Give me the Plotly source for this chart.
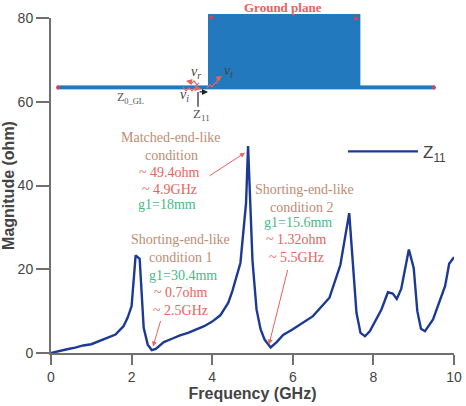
import plotly.graph_objects as go

# Input impedance magnitude against frequency
freq_ghz = [0, 0.2, 0.4, 0.6, 0.8, 1.0, 1.2, 1.4, 1.6, 1.8, 1.9, 2.0, 2.1, 2.2, 2.3, 2.4, 2.5,
            2.6, 2.7, 2.8, 3.0, 3.2, 3.4, 3.6, 3.8, 4.0, 4.2, 4.4, 4.5, 4.7, 4.84, 4.89, 5.0,
            5.1, 5.2, 5.3, 5.45, 5.6, 5.76, 5.99, 6.5, 6.91, 7.18, 7.4, 7.58, 7.68, 7.79, 7.91,
            8.2, 8.36, 8.48, 8.58, 8.69, 8.88, 9.0, 9.09, 9.18, 9.28, 9.48, 9.78, 9.88, 10.0]
z11_ohm = [0, 0.5, 0.9, 1.3, 1.8, 2.1, 2.9, 3.6, 4.4, 6.4, 8.4, 11.2, 23.3, 22.5, 6.0, 2.0, 0.7,
           1.0, 1.8, 2.6, 3.4, 4.2, 4.8, 5.6, 6.4, 7.5, 9.0, 12.0, 14.8, 21.5, 35.8, 49.4, 22.0,
           10.4, 5.7, 3.2, 1.32, 2.6, 4.3, 5.6, 8.8, 13.2, 21.0, 33.4, 9.6, 4.8, 4.0, 5.2,
           10.4, 14.5, 14.2, 12.9, 15.3, 24.7, 20.3, 10.0, 5.8, 5.2, 8.0, 16.0, 21.3, 22.9]

x_major = [0, 2, 4, 6, 8, 10]
x_minor = [1, 3, 5, 7, 9]
y_major = [0, 20, 40, 60, 80]
y_minor = [10, 30, 50, 70]

TAN = "#BE8C72"
RED = "#E8625C"
GREEN = "#48B888"
BLUE = "#2279BE"
MARK = "#E0404E"
CURVE = "#1C3A94"
GREY = "#707070"
INK = "#444444"

W, H = 466, 406
L, R, T, B = 51, 454, 18, 353.5


def px(x):
    return (x - L) / (R - L)


def py(y):
    return (B - y) / (B - T)


def poly(points):
    return "M " + " L ".join(f"{px(x):.5f},{py(y):.5f}" for x, y in points)


# (text, colour, x centre, y centre) for each block of notes
notes = [
    ("Matched-end-like", TAN, 171, 138), ("condition", TAN, 171, 156),
    ("~ 49.4ohm", RED, 169, 173), ("~ 4.9GHz", RED, 169, 190), ("g1=18mm", GREEN, 167, 205),
    ("Shorting-end-like", TAN, 180, 240), ("condition 1", TAN, 180, 258),
    ("g1=30.4mm", GREEN, 183, 276), ("~ 0.7ohm", RED, 181, 293), ("~ 2.5GHz", RED, 180, 311),
    ("Shorting-end-like", TAN, 304, 190), ("condition 2", TAN, 301, 208),
    ("g1=15.6mm", GREEN, 298, 223), ("~ 1.32ohm", RED, 296, 240), ("~ 5.5GHz", RED, 296, 258),
]

annotations = [
    dict(text=t, x=px(x), y=py(y), xref="paper", yref="paper", showarrow=False,
         xanchor="center", yanchor="middle",
         font=dict(family="Liberation Serif", size=14, color=c))
    for t, c, x, y in notes
]

annotations.append(dict(text="<b>Ground plane</b>", x=px(283), y=py(7), xref="paper", yref="paper",
                        xanchor="center", yanchor="middle", showarrow=False,
                        font=dict(family="Liberation Serif", size=13, color=RED)))

# Labels around the feed point of the strip
for text, x, y, size, col in [
    ("Z<sub>0_GL</sub>", 130, 98, 12, "#555555"),
    ("Z<sub>11</sub>", 201, 115, 13, "#555555"),
    ("<i>v<sub>r</sub></i>", 196, 73, 14, "#444444"),
    ("<i>v<sub>t</sub></i>", 228, 72, 14, "#444444"),
    ("<i>v<sub>i</sub></i>", 184, 96, 14, "#444444"),
]:
    annotations.append(dict(text=text, x=px(x), y=py(y), xref="paper", yref="paper",
                            xanchor="center", yanchor="middle", showarrow=False,
                            font=dict(family="Liberation Serif", size=size, color=col)))

# Arrows from the notes to the curve and for the wave directions
for x0, y0, x1, y1, col, wid in [
    (208, 177, 245, 153, RED, 1), (161, 320, 153, 347, RED, 1), (288, 269, 269, 345, RED, 1),
    (198, 92, 208, 92, "#222222", 1.2), (216, 80, 222, 76, RED, 1.2),
    (192, 82, 186, 81, RED, 1.2), (194, 88, 201, 89, RED, 1.2),
]:
    annotations.append(dict(x=px(x1), y=py(y1), ax=x0 - x1, ay=y0 - y1, xref="paper", yref="paper",
                            text="", showarrow=True, arrowhead=2,
                            arrowsize=1, arrowwidth=wid, arrowcolor=col))

# Ground plane outline: the strip and the wide block, with a pale lower edge
shapes = [
    dict(type="rect", xref="paper", yref="paper", x0=px(57), x1=px(435), y0=py(90), y1=py(85.7),
         fillcolor="#A5CFEC", line_width=0, layer="below"),
    dict(type="rect", xref="paper", yref="paper", x0=px(208), x1=px(361), y0=py(90), y1=py(14),
         fillcolor="#A5CFEC", line_width=0, layer="below"),
    dict(type="rect", xref="paper", yref="paper", x0=px(57), x1=px(435), y0=py(89), y1=py(85.7),
         fillcolor=BLUE, line_width=0, layer="below"),
    dict(type="rect", xref="paper", yref="paper", x0=px(208), x1=px(360), y0=py(89), y1=py(14),
         fillcolor=BLUE, line_width=0, layer="below"),
]

# Port marks at the corners of the ground plane
for cx, cy in [(58, 87.5), (211.5, 17.5), (356, 18.5), (434, 87.5)]:
    shapes.append(dict(type="circle", xref="paper", yref="paper", x0=px(cx - 2), x1=px(cx + 2),
                       y0=py(cy + 2), y1=py(cy - 2), fillcolor=MARK, line_width=0))

# Reference plane bracket and the wavy wave paths at the feed
shapes.append(dict(type="path", xref="paper", yref="paper",
                   path=poly([(198, 107), (198, 92)]), line=dict(color="#222222", width=1.2)))
for wave in [
    [(207, 88), (210, 85), (212, 87), (215, 83), (217, 83), (217, 80)],
    [(199, 83), (197, 85), (194, 81), (191, 84), (188, 81)],
    [(183, 87), (186, 91), (189, 88), (192, 91), (195, 88)],
]:
    shapes.append(dict(type="path", xref="paper", yref="paper", path=poly(wave),
                       line=dict(color=RED, width=1.1)))

# One pixel expressed in each axis' data units, for the tick lengths
x_unit = 10 / (R - L)
y_unit = 80 / (B - T)

# Unlabelled short ticks as unclipped line runs
tick_xs, tick_ys = [], []
for value in x_minor:
    tick_xs += [value, value, None]
    tick_ys += [0, -7 * y_unit, None]
for value in y_minor:
    tick_xs += [0, -7 * x_unit, None]
    tick_ys += [value, value, None]

fig = go.Figure()
fig.add_trace(go.Scatter(x=tick_xs, y=tick_ys, mode="lines", showlegend=False, cliponaxis=False,
                         hoverinfo="skip", line=dict(color=GREY, width=1.8)))
fig.add_trace(go.Scatter(x=freq_ghz, y=z11_ohm, mode="lines", name="Z<sub>11</sub>",
                         line=dict(color=CURVE, width=2.4), showlegend=True))

axis_common = dict(showgrid=False, zeroline=False, showline=True, linecolor=GREY, linewidth=2,
                   ticks="outside", tickcolor=GREY, tickwidth=1.8, automargin=True,
                   tickfont=dict(family="Liberation Sans", size=14, color=INK))

fig.update_xaxes(range=[0, 10], tickmode="array", tickvals=x_major, ticklen=10,
                 title=dict(text="<b>Frequency (GHz)</b>", standoff=1,
                            font=dict(family="Liberation Sans", size=16, color=INK)),
                 **axis_common)
fig.update_yaxes(range=[0, 80], tickmode="array", tickvals=y_major, ticklen=13,
                 title=dict(text="<b>Magnitude (ohm)</b>", standoff=5,
                            font=dict(family="Liberation Sans", size=16, color=INK)),
                 **axis_common)

fig.update_layout(
    width=W, height=H, autosize=False,
    margin=dict(l=L, r=W - R, t=T, b=H - B, pad=0, autoexpand=False),
    paper_bgcolor="white", plot_bgcolor="white",
    shapes=shapes, annotations=annotations,
    legend=dict(x=px(343), y=py(152), xanchor="left", yanchor="middle", itemwidth=70,
                bgcolor="rgba(0,0,0,0)", font=dict(family="Liberation Sans", size=17, color=INK)),
)

fig.write_html("out.html", config=dict(displayModeBar=False))
